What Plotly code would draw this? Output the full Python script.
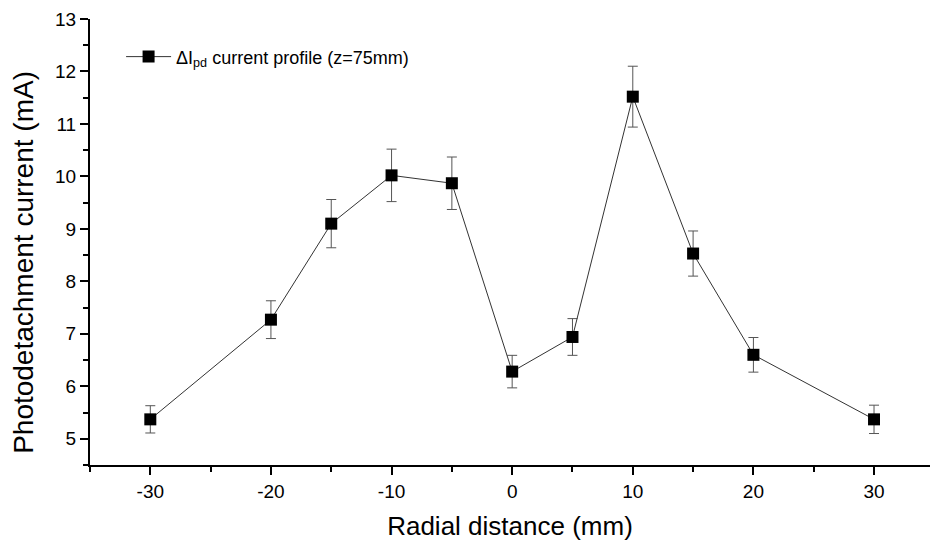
import plotly.graph_objects as go

# Radial photodetachment current profile at z = 75 mm
radial_mm = [-30, -20, -15, -10, -5, 0, 5, 10, 15, 20, 30]
current_mA = [5.37, 7.27, 9.10, 10.02, 9.87, 6.28, 6.94, 11.52, 8.53, 6.60, 5.37]
error_mA = [0.26, 0.36, 0.46, 0.50, 0.50, 0.31, 0.35, 0.58, 0.43, 0.33, 0.27]

x_ticks = [-30, -20, -10, 0, 10, 20, 30]
x_tick_labels = ["-30", "-20", "-10", "0", "10", "20", "30"]
y_ticks = [5, 6, 7, 8, 9, 10, 11, 12, 13]

FONT = "Liberation Sans, Arial, sans-serif"

fig = go.Figure()
fig.add_trace(go.Scatter(
    x=radial_mm, y=current_mA,
    mode="lines+markers",
    name="ΔI<sub>pd</sub> current profile (z=75mm)",
    line=dict(color="#333333", width=1),
    marker=dict(symbol="square", size=12, color="black"),
    error_y=dict(type="data", array=error_mA, visible=True,
                 color="#555555", thickness=1, width=5),
))

axis_common = dict(
    showline=True, linecolor="black", linewidth=2,
    ticks="outside", ticklen=8, tickwidth=2, tickcolor="black",
    showgrid=False, zeroline=False,
    tickfont=dict(family=FONT, size=19, color="black"),
    mirror=False,
)

fig.update_xaxes(
    range=[-35, 34.64], tickvals=x_ticks, ticktext=x_tick_labels,
    minor=dict(dtick=5, tick0=0, ticks="outside", ticklen=5, tickwidth=2, tickcolor="black"),
    title=dict(text="Radial distance (mm)", font=dict(family=FONT, size=26, color="black"), standoff=16),
    **axis_common,
)
fig.update_yaxes(
    range=[4.5, 13], tickvals=y_ticks,
    minor=dict(dtick=0.5, tick0=0, ticks="outside", ticklen=5, tickwidth=2, tickcolor="black"),
    **axis_common,
)

# Y-axis title placed slightly below the plot centre
fig.add_annotation(
    text="Photodetachment current (mA)", textangle=-90,
    xref="paper", yref="paper", x=-0.08, y=0.455,
    xanchor="center", yanchor="middle", showarrow=False,
    font=dict(family=FONT, size=28, color="black"),
)

fig.update_layout(
    width=930, height=549,
    margin=dict(l=90, r=0, t=19, b=84),
    plot_bgcolor="white", paper_bgcolor="white",
    showlegend=True,
    legend=dict(x=0.037, y=0.915, xanchor="left", yanchor="middle",
                itemwidth=45, bgcolor="rgba(0,0,0,0)",
                font=dict(family=FONT, size=18, color="black")),
)

fig.write_html("out.html")
